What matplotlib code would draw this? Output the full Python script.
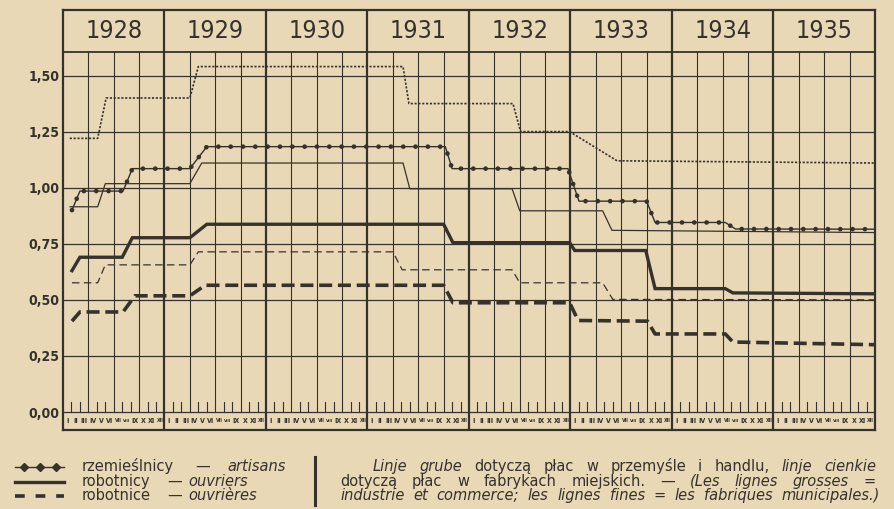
import matplotlib
matplotlib.use("Agg")
import matplotlib.pyplot as plt
from matplotlib.lines import Line2D
from matplotlib import font_manager as fm

# ---------------- data ----------------
years = ['1928', '1929', '1930', '1931', '1932', '1933', '1934', '1935']
month_labels = ['I', 'II', 'III', 'IV', 'V', 'VI', 'VII', 'VIII', 'IX', 'X', 'XI', 'XII']
ytick_values = [0.00, 0.25, 0.50, 0.75, 1.00, 1.25, 1.50]
ytick_labels = ['0,00', '0,25', '0,50', '0,75', '1,00', '1,25', '1,50']

# x = months counted from January 1928
art_thin_x = [0.8, 4.1, 5.1, 15.0, 16.0, 40.2, 40.9, 53.2, 54.1, 59.9, 65.5, 96.0]
art_thin_y = [1.22, 1.22, 1.40, 1.40, 1.54, 1.54, 1.375, 1.375, 1.25, 1.25, 1.12, 1.11]

art_thick_x = [1.06, 2.0, 7.1, 8.2, 15.0, 17.0, 45.2, 46.0, 59.7, 61.0, 69.0, 70.0, 78.3, 79.5, 96.0]
art_thick_y = [0.90, 0.985, 0.985, 1.085, 1.085, 1.183, 1.183, 1.085, 1.085, 0.94, 0.94, 0.845, 0.845, 0.816, 0.815]

wrk_thin_x = [0.83, 4.1, 5.0, 15.0, 16.4, 40.2, 41.0, 53.1, 54.0, 63.8, 64.9, 96.0]
wrk_thin_y = [0.915, 0.915, 1.018, 1.018, 1.11, 1.11, 0.995, 0.995, 0.897, 0.897, 0.81, 0.80]

wrk_thick_x = [1.06, 2.0, 7.0, 8.2, 15.0, 17.0, 45.0, 46.1, 59.9, 60.5, 68.9, 70.0, 78.3, 79.2, 96.0]
wrk_thick_y = [0.63, 0.69, 0.69, 0.777, 0.777, 0.837, 0.837, 0.755, 0.755, 0.72, 0.72, 0.55, 0.55, 0.531, 0.527]

wom_thin_x = [1.06, 4.1, 5.0, 15.0, 16.0, 39.0, 40.1, 53.1, 54.0, 63.8, 65.0, 96.0]
wom_thin_y = [0.576, 0.576, 0.656, 0.656, 0.714, 0.714, 0.634, 0.634, 0.576, 0.576, 0.502, 0.50]

wom_thick_x = [1.06, 2.0, 7.1, 8.5, 15.0, 16.8, 45.0, 46.1, 59.9, 60.9, 69.1, 70.0, 78.3, 79.2, 96.0]
wom_thick_y = [0.405, 0.446, 0.446, 0.518, 0.518, 0.565, 0.565, 0.487, 0.487, 0.408, 0.405, 0.348, 0.348, 0.312, 0.30]

# ---------------- style ----------------
W, H = 895, 509
BG = '#E8D8B6'
INK = '#36312C'

names = {f.name for f in fm.fontManager.ttflist}
dv_cond = any(f.name == 'DejaVu Sans' and str(f.stretch) == 'condensed' for f in fm.fontManager.ttflist)
if 'Liberation Sans Narrow' in names:
    NARROW = dict(family='Liberation Sans Narrow')
    YEAR_FS, YT_FS, ROM_FS = 20, 11, 5.6
elif dv_cond:
    NARROW = dict(family='DejaVu Sans', stretch='condensed')
    YEAR_FS, YT_FS, ROM_FS = 18, 10, 5.0
else:
    NARROW = dict(family='DejaVu Sans')
    YEAR_FS, YT_FS, ROM_FS = 16, 9, 4.4

fig = plt.figure(figsize=(W / 100, H / 100), dpi=100, facecolor=BG)
renderer = fig.canvas.get_renderer()


def px(x, y):
    return (x / W, 1 - y / H)


# axes spanning the framed area (pixels 63..875 x 10..430)
ax_l, ax_r, ax_t, ax_b = 63, 875, 10, 430
ax = fig.add_axes([ax_l / W, 1 - ax_b / H, (ax_r - ax_l) / W, (ax_b - ax_t) / H])
ax.set_facecolor(BG)

Y0_PX, PX_PER_UNIT = 412.0, 224.3
y_bottom = (Y0_PX - ax_b) / PX_PER_UNIT
y_top = (Y0_PX - ax_t) / PX_PER_UNIT
y_head = (Y0_PX - 52) / PX_PER_UNIT
n_months = 12 * len(years)
ax.set_xlim(0, n_months)
ax.set_ylim(y_bottom, y_top)
month_px = (ax_r - ax_l) / n_months

for s in ax.spines.values():
    s.set_color(INK)
    s.set_linewidth(1.6)

ax.set_xticks([])
ax.set_yticks(ytick_values)
ax.set_yticklabels(ytick_labels, color=INK, fontsize=YT_FS, fontweight='bold', **NARROW)
ax.tick_params(axis='y', length=0, pad=2.5)

# grid: horizontal value lines
for v in ytick_values:
    ax.plot([0, n_months], [v, v], color=INK, lw=0.9, zorder=1)
# header line
ax.plot([0, n_months], [y_head, y_head], color=INK, lw=1.3, zorder=1)
for yi in range(len(years)):
    # quarter lines
    for q in (3, 6, 9):
        m = 12 * yi + q
        ax.plot([m, m], [0, y_head], color=INK, lw=0.8, zorder=1)
    # year separators
    if yi > 0:
        ax.plot([12 * yi, 12 * yi], [y_bottom, y_top], color=INK, lw=1.6, zorder=1)
    # year labels
    ax.text(12 * yi + 6, (y_head + y_top) / 2, years[yi], ha='center', va='center',
            fontsize=YEAR_FS, color=INK, **NARROW)
    # month ticks and roman numerals (shrunk to fit their month cell)
    for mi in range(12):
        m = 12 * yi + mi
        if mi % 3 != 0:
            ax.plot([m, m], [0, 0.045], color=INK, lw=0.8, zorder=1)
        t = ax.text(m + 0.5, y_bottom / 2, month_labels[mi], ha='center', va='center',
                    fontsize=ROM_FS, fontweight='bold', color=INK, **NARROW)
        wpx = t.get_window_extent(renderer=renderer).width
        limit = month_px - 1.2
        if wpx > limit:
            t.set_fontsize(ROM_FS * limit / wpx)

# ---------------- series ----------------
# artisans, municipal factories (thin dotted)
ax.plot(art_thin_x, art_thin_y, color=INK, lw=1.2, linestyle=(0, (1.3, 1.0)), zorder=3)
# artisans, industry & trade (thick beaded)
ax.plot(art_thick_x, art_thick_y, color=INK, lw=1.0, zorder=3)
ax.plot(art_thick_x, art_thick_y, color=INK, lw=3.4, linestyle=(0, (0.01, 2.6)),
        dash_capstyle='round', zorder=3)
# workers
ax.plot(wrk_thin_x, wrk_thin_y, color=INK, lw=0.9, zorder=3)
ax.plot(wrk_thick_x, wrk_thick_y, color=INK, lw=2.4, zorder=3, solid_joinstyle='miter')
# women workers
ax.plot(wom_thin_x, wom_thin_y, color=INK, lw=0.9, linestyle=(0, (6, 3.5)), zorder=3)
ax.plot(wom_thick_x, wom_thick_y, color=INK, lw=2.6, linestyle=(0, (3.6, 1.6)), zorder=3)

# ---------------- legend ----------------
rows_c = [467, 482, 496]
tf = fig.transFigure


def fline(xs, ys, **kw):
    pts = [px(x, y) for x, y in zip(xs, ys)]
    fig.add_artist(Line2D([p[0] for p in pts], [p[1] for p in pts], transform=tf, color=INK, **kw))


fline([15, 64], [rows_c[0]] * 2, lw=1.0)
fline([24, 40, 56], [rows_c[0]] * 3, lw=0, marker='D', markersize=4.2, markerfacecolor=INK, markeredgecolor=INK)
fline([15, 64], [rows_c[1]] * 2, lw=2.4)
fline([15, 64], [rows_c[2]] * 2, lw=2.6, linestyle=(0, (2.7, 3.0)))

LEG_FS = 10.5
legend_rows = [
    ('rzemieślnicy', 'artisans', 195, 227),
    ('robotnicy', 'ouvriers', 167, 188),
    ('robotnice', 'ouvrières', 167, 188),
]
for (pl, fr, xd, xf), yc in zip(legend_rows, rows_c):
    yb = yc + 4
    fig.text(*px(82, yb), pl, fontsize=LEG_FS, color=INK, va='baseline', ha='left')
    fig.text(*px(xd, yb), '—', fontsize=LEG_FS, color=INK, va='baseline', ha='left')
    fig.text(*px(xf, yb), fr, fontsize=LEG_FS, color=INK, va='baseline', ha='left', style='italic')

# separator bar
fline([315, 315], [457, 505], lw=2.2)


# justified paragraph
def justified(words, x0, x1, yb):
    objs, widths = [], []
    for w, it in words:
        t = fig.text(0, 0, w, fontsize=LEG_FS, color=INK, va='baseline', ha='left',
                     style='italic' if it else 'normal')
        widths.append(t.get_window_extent(renderer=renderer).width)
        objs.append(t)
    gap = (x1 - x0 - sum(widths)) / max(len(words) - 1, 1)
    x = x0
    for t, w in zip(objs, widths):
        t.set_position(px(x, yb))
        x += w + gap


def words_of(text, italic):
    return [(w, italic) for w in text.split()]


line1 = (words_of('Linje grube', True) + words_of('dotyczą płac w przemyśle i handlu,', False)
         + words_of('linje cienkie', True))
line2 = (words_of('dotyczą płac w fabrykach miejskich. —', False)
         + words_of('(Les lignes grosses =', True))
line3 = words_of('industrie et commerce; les lignes fines = les fabriques municipales.)', True)

justified(line1, 373, 876, rows_c[0] + 4)
justified(line2, 340, 876, rows_c[1] + 4)
justified(line3, 340, 880, rows_c[2] + 4)

fig.savefig('out.png', dpi=100, facecolor=BG)
